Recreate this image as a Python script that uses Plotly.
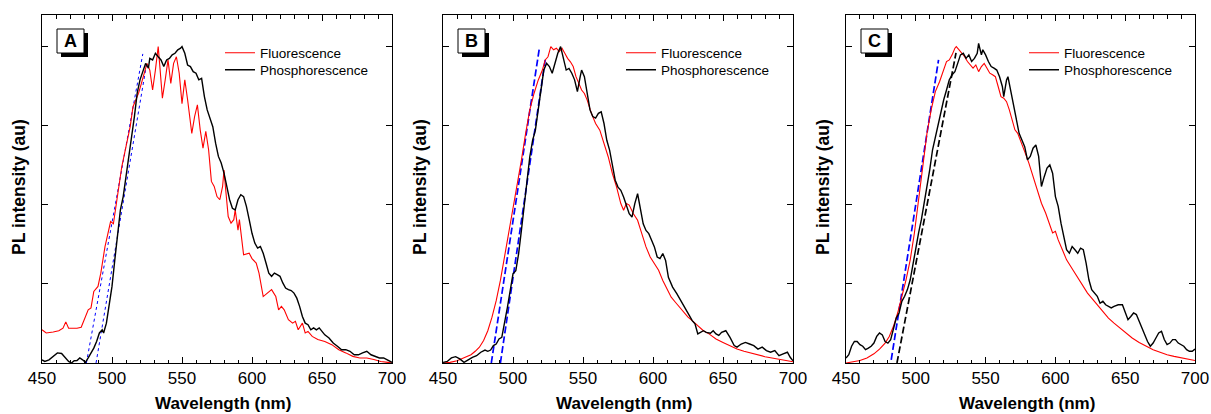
import plotly.graph_objects as go

# ---------------- data ----------------
# Panel A
a_fl_wl = [450,453,458,462,465,467,469,475,478,481,483,485,487,490,492,495,497,499,501,503,505,507,510,513,515,517,519,521,523,525,527,529,531,533,534,536,538,540,542,544,546,548,550,552,554,556,557,559,561,563,565,567,569,571,573,575,577,579,580,581,583,585,587,588,590,591,592,594,598,600,603,605,608,611,614,617,619,621,623,626,629,631,633,636,638,640,643,647,652,657,662,667,672,677,682,687,692,697,700]
a_fl_int = [0.105,0.095,0.098,0.102,0.11,0.13,0.11,0.11,0.113,0.147,0.168,0.174,0.226,0.242,0.284,0.368,0.41,0.447,0.44,0.505,0.563,0.621,0.684,0.747,0.81,0.83,0.853,0.884,0.916,0.947,0.926,0.863,0.926,1.0,0.947,0.837,0.895,0.958,0.884,0.947,0.968,0.916,0.82,0.895,0.832,0.747,0.726,0.779,0.816,0.737,0.679,0.732,0.674,0.574,0.558,0.526,0.516,0.558,0.61,0.558,0.463,0.442,0.453,0.484,0.42,0.453,0.41,0.342,0.347,0.33,0.316,0.284,0.21,0.22,0.232,0.21,0.168,0.179,0.168,0.137,0.126,0.132,0.105,0.126,0.095,0.1,0.084,0.074,0.068,0.058,0.042,0.032,0.021,0.016,0.016,0.011,0.005,0.002,0.0]
a_ph_wl = [450,452,455,458,461,464,467,469,471,473,475,477,479,481,483,485,487,489,491,493,494,496,498,500,502,504,506,508,510,512,514,516,518,520,522,524,526,527,529,531,533,535,537,539,541,543,545,547,549,550,552,554,556,558,560,562,564,566,568,570,572,574,576,578,580,582,584,586,588,590,592,594,596,598,600,602,604,606,608,610,612,614,616,618,620,622,624,626,628,630,632,634,636,638,640,642,644,646,648,650,652,655,658,661,664,667,670,673,676,679,682,685,688,691,694,697,700]
a_ph_int = [0.01,0.005,0.01,0.021,0.032,0.03,0.016,0.005,0.0,0.007,0.008,0.016,0.01,0.002,0.016,0.032,0.047,0.068,0.095,0.105,0.095,0.126,0.179,0.242,0.326,0.41,0.484,0.526,0.589,0.642,0.705,0.779,0.853,0.895,0.921,0.947,0.932,0.963,0.958,0.979,0.968,0.958,0.937,0.958,0.963,0.974,0.979,0.99,0.995,1.0,0.979,0.942,0.937,0.921,0.916,0.895,0.9,0.842,0.8,0.774,0.747,0.695,0.653,0.632,0.6,0.558,0.516,0.489,0.484,0.516,0.532,0.526,0.495,0.453,0.41,0.379,0.363,0.368,0.347,0.316,0.284,0.274,0.284,0.279,0.274,0.253,0.237,0.232,0.229,0.221,0.205,0.179,0.147,0.126,0.121,0.105,0.111,0.105,0.111,0.1,0.089,0.079,0.063,0.053,0.042,0.042,0.037,0.026,0.026,0.032,0.037,0.026,0.021,0.016,0.016,0.01,0.002]
a_tan1_wl = [481.7, 522.0]
a_tan1_int = [0.0, 0.977]
a_tan2_wl = [488.6, 525.0]
a_tan2_int = [0.0, 0.953]

# Panel B
b_fl_wl = [450,455,460,465,470,473,476,479,482,485,488,491,494,497,500,503,506,509,512,515,518,521,523,525,527,529,531,533,535,537,539,541,543,545,547,549,551,553,556,559,562,565,568,571,574,577,579,581,583,586,589,592,595,598,601,604,607,610,613,616,619,622,625,628,632,636,640,645,650,655,660,665,670,675,680,685,690,695,700]
b_fl_int = [0.0,0.002,0.007,0.016,0.026,0.037,0.05,0.071,0.102,0.145,0.197,0.261,0.335,0.409,0.483,0.562,0.641,0.725,0.8,0.852,0.894,0.926,0.958,0.968,1.0,0.99,0.995,0.984,0.995,0.979,0.963,0.952,0.937,0.905,0.884,0.863,0.852,0.831,0.789,0.757,0.736,0.694,0.652,0.599,0.556,0.504,0.483,0.504,0.499,0.472,0.451,0.409,0.367,0.335,0.314,0.293,0.261,0.234,0.208,0.192,0.176,0.16,0.145,0.134,0.118,0.102,0.092,0.076,0.065,0.055,0.044,0.037,0.031,0.025,0.02,0.016,0.012,0.007,0.004]
b_ph_wl = [450,453,456,459,462,465,468,471,474,477,480,482,484,486,488,490,492,494,496,498,500,502,504,506,508,510,512,514,516,518,520,522,524,526,528,530,532,534,536,538,540,542,544,546,548,549,551,553,555,557,559,561,563,565,567,569,571,573,575,577,579,581,583,585,587,589,591,593,595,597,599,601,603,605,607,609,611,614,617,620,623,626,628,630,632,634,636,638,641,643,645,647,649,652,655,658,660,663,666,669,672,675,678,681,684,687,690,693,696,698,700]
b_ph_int = [0.002,0.005,0.016,0.02,0.013,0.002,0.01,0.018,0.023,0.034,0.041,0.037,0.041,0.055,0.06,0.076,0.081,0.124,0.176,0.229,0.282,0.292,0.345,0.419,0.493,0.578,0.652,0.704,0.736,0.8,0.863,0.926,0.947,0.937,0.916,0.947,0.979,1.0,0.958,0.926,0.931,0.916,0.895,0.858,0.905,0.926,0.905,0.852,0.8,0.779,0.774,0.789,0.794,0.757,0.704,0.673,0.63,0.578,0.556,0.546,0.525,0.499,0.472,0.461,0.504,0.535,0.493,0.44,0.419,0.409,0.388,0.367,0.335,0.33,0.346,0.324,0.271,0.24,0.219,0.197,0.176,0.15,0.134,0.124,0.092,0.097,0.102,0.097,0.094,0.102,0.092,0.087,0.097,0.102,0.081,0.055,0.05,0.06,0.065,0.06,0.055,0.044,0.05,0.039,0.034,0.039,0.023,0.029,0.034,0.018,0.007]
b_tan1_wl = [484.5, 519.0]
b_tan1_int = [0.0, 1.0]
b_tan2_wl = [491.0, 523.0]
b_tan2_int = [0.0, 0.958]

# Panel C
c_fl_wl = [450,455,460,465,470,474,478,481,484,487,490,493,496,499,502,505,508,511,514,517,520,522,524,526,528,529,531,533,535,537,539,541,543,545,547,549,551,553,555,557,559,561,563,565,567,569,571,573,575,578,581,584,587,590,593,596,598,600,602,605,608,611,614,617,620,623,626,630,634,638,642,646,650,655,660,665,670,675,680,685,690,695,700]
c_fl_int = [0.0,0.003,0.008,0.016,0.029,0.044,0.063,0.084,0.116,0.158,0.211,0.263,0.326,0.411,0.516,0.621,0.726,0.8,0.858,0.889,0.926,0.953,0.958,0.974,0.995,1.0,0.99,0.979,0.968,0.953,0.942,0.932,0.942,0.921,0.937,0.947,0.932,0.916,0.911,0.905,0.874,0.842,0.837,0.826,0.8,0.768,0.737,0.726,0.705,0.668,0.632,0.589,0.547,0.505,0.474,0.432,0.411,0.416,0.389,0.358,0.326,0.305,0.284,0.263,0.242,0.221,0.205,0.184,0.163,0.142,0.126,0.111,0.095,0.079,0.065,0.053,0.042,0.034,0.026,0.021,0.016,0.012,0.008]
c_ph_wl = [450,452,454,456,458,460,462,464,466,468,470,472,474,476,478,480,482,484,486,488,490,492,494,496,498,500,502,504,506,508,510,512,514,516,518,520,522,524,526,528,530,532,534,536,538,540,542,544,545,547,548,550,552,554,556,558,560,562,563,565,566,568,570,572,574,576,578,580,582,584,586,588,590,592,594,596,598,600,602,604,606,608,610,612,614,616,618,620,622,624,626,628,630,632,634,636,638,640,642,645,648,650,652,654,656,658,660,662,664,666,668,670,672,674,676,678,680,682,684,686,688,690,692,694,696,698,700]
c_ph_int = [0.016,0.026,0.053,0.068,0.068,0.058,0.053,0.042,0.047,0.053,0.063,0.084,0.095,0.089,0.068,0.063,0.074,0.105,0.142,0.158,0.195,0.211,0.232,0.263,0.316,0.368,0.411,0.453,0.505,0.547,0.611,0.674,0.716,0.758,0.789,0.832,0.863,0.895,0.911,0.921,0.947,0.974,0.979,0.963,0.974,0.953,0.963,0.979,1.01,0.974,0.99,0.974,0.953,0.937,0.932,0.926,0.905,0.874,0.842,0.895,0.905,0.863,0.821,0.768,0.726,0.705,0.684,0.642,0.653,0.679,0.689,0.653,0.558,0.589,0.616,0.626,0.6,0.526,0.495,0.442,0.4,0.358,0.347,0.368,0.358,0.347,0.363,0.358,0.316,0.263,0.232,0.221,0.211,0.189,0.195,0.184,0.179,0.174,0.179,0.184,0.184,0.158,0.137,0.147,0.158,0.153,0.132,0.105,0.084,0.068,0.053,0.063,0.079,0.095,0.1,0.074,0.058,0.063,0.074,0.074,0.063,0.058,0.053,0.042,0.037,0.037,0.044]
c_tan1_wl = [482.4, 516.3]
c_tan1_int = [0.01, 0.958]
c_tan2_wl = [486.5, 528.8]
c_tan2_int = [0.0, 0.98]

panel_letters = ["A", "B", "C"]
series_names = ["Fluorescence", "Phosphorescence"]
x_ticks = [450, 500, 550, 600, 650, 700]
y_ticks = [0, 0.25, 0.5, 0.75, 1.0]

# ---------------- layout geometry ----------------
W, H = 1211, 414
FONT = "Liberation Sans"
panels_px = [(42, 392), (443, 793), (846, 1195)]
plot_top, plot_bot = 15, 363
legend_rows = [53, 70]   # centre y of the two legend entries

def fx(px):
    return px / W

def fy(py):
    return 1 - py / H

fig = go.Figure()

panels = [
    dict(fl=(a_fl_wl, a_fl_int), ph=(a_ph_wl, a_ph_int),
         tans=[(a_tan1_wl, a_tan1_int, "blue", "dot"), (a_tan2_wl, a_tan2_int, "blue", "dot")]),
    dict(fl=(b_fl_wl, b_fl_int), ph=(b_ph_wl, b_ph_int),
         tans=[(b_tan1_wl, b_tan1_int, "blue", "dash"), (b_tan2_wl, b_tan2_int, "blue", "dash")]),
    dict(fl=(c_fl_wl, c_fl_int), ph=(c_ph_wl, c_ph_int),
         tans=[(c_tan1_wl, c_tan1_int, "blue", "dash"), (c_tan2_wl, c_tan2_int, "black", "dash")]),
]

shapes = []
annotations = []
layout_axes = {}

for i, p in enumerate(panels):
    sfx = "" if i == 0 else str(i + 1)
    xa, ya = "x" + sfx, "y" + sfx
    leg_fl = "legend" + ("" if i == 0 else str(2 * i + 1))
    leg_ph = "legend" + str(2 * i + 2)
    x0, x1 = panels_px[i]

    for wl, val, col, dsh in p["tans"]:
        if dsh == "dash":
            ln = dict(color=col, width=1.7, dash="7px,3px")
        else:
            ln = dict(color=col, width=1, dash="dot")
        fig.add_trace(go.Scatter(x=wl, y=val, mode="lines", xaxis=xa, yaxis=ya,
                                 line=ln, showlegend=False, hoverinfo="skip"))
    fig.add_trace(go.Scatter(x=p["fl"][0], y=p["fl"][1], mode="lines", name=series_names[0],
                             xaxis=xa, yaxis=ya, legend=leg_fl,
                             line=dict(color="#ff0000", width=1.1)))
    fig.add_trace(go.Scatter(x=p["ph"][0], y=p["ph"][1], mode="lines", name=series_names[1],
                             xaxis=xa, yaxis=ya, legend=leg_ph,
                             line=dict(color="#000000", width=1.4)))

    layout_axes["xaxis" + sfx] = dict(
        domain=[fx(x0), fx(x1)], anchor=ya, range=[450, 700],
        tickvals=x_ticks, ticks="inside", ticklen=6, tickwidth=1, tickcolor="black",
        minor=dict(dtick=10, ticks="inside", ticklen=3.5, tickcolor="black", tickwidth=1),
        showline=True, linecolor="black", linewidth=1, mirror="ticks",
        showgrid=False, zeroline=False, automargin=False,
        tickfont=dict(family=FONT, size=17, color="black"))
    layout_axes["yaxis" + sfx] = dict(
        domain=[fy(plot_bot), fy(plot_top)], anchor=xa, range=[0, 1.1],
        tickvals=y_ticks, ticks="inside", ticklen=6, tickwidth=1, tickcolor="black",
        showticklabels=False, showline=True, linecolor="black", linewidth=1, mirror="ticks",
        showgrid=False, zeroline=False, automargin=False)

    for leg, ry in ((leg_fl, legend_rows[0]), (leg_ph, legend_rows[1])):
        layout_axes[leg] = dict(
            x=fx(x0 + 178), y=fy(ry), xref="paper", yref="paper",
            xanchor="left", yanchor="middle", bgcolor="rgba(0,0,0,0)", borderwidth=0,
            font=dict(family=FONT, size=13.5, color="black"), tracegroupgap=0,
            itemwidth=30)

    # panel letter box with drop shadow
    bx0, bx1 = x0 + 15, x0 + 42
    by0, by1 = 29, 53
    shapes.append(dict(type="rect", xref="paper", yref="paper",
                       x0=fx(bx0 + 4), x1=fx(bx1 + 4), y0=fy(by1 + 4), y1=fy(by0 + 4),
                       fillcolor="black", line=dict(width=0), layer="above"))
    shapes.append(dict(type="rect", xref="paper", yref="paper",
                       x0=fx(bx0), x1=fx(bx1), y0=fy(by1), y1=fy(by0),
                       fillcolor="white", line=dict(color="black", width=1), layer="above"))
    annotations.append(dict(text="<b>%s</b>" % panel_letters[i], xref="paper", yref="paper",
                            x=fx((bx0 + bx1) / 2), y=fy((by0 + by1) / 2),
                            xanchor="center", yanchor="middle", showarrow=False,
                            font=dict(family=FONT, size=18, color="black")))
    # axis titles
    annotations.append(dict(text="<b>Wavelength (nm)</b>", xref="paper", yref="paper",
                            x=fx((x0 + x1) / 2 + 6), y=fy(403), xanchor="center", yanchor="middle",
                            showarrow=False, font=dict(family=FONT, size=17, color="black")))
    annotations.append(dict(text="<b>PL intensity (au)</b>", xref="paper", yref="paper",
                            x=fx(x0 - 23), y=fy(187), xanchor="center", yanchor="middle",
                            textangle=-90, showarrow=False,
                            font=dict(family=FONT, size=17.5, color="black")))

fig.update_layout(
    width=W, height=H, margin=dict(l=0, r=0, t=0, b=0),
    paper_bgcolor="white", plot_bgcolor="white",
    shapes=shapes, annotations=annotations, showlegend=True,
    **layout_axes)

fig.write_html("out.html", config={"displayModeBar": False},
               post_script="document.body.style.margin='0px';")
